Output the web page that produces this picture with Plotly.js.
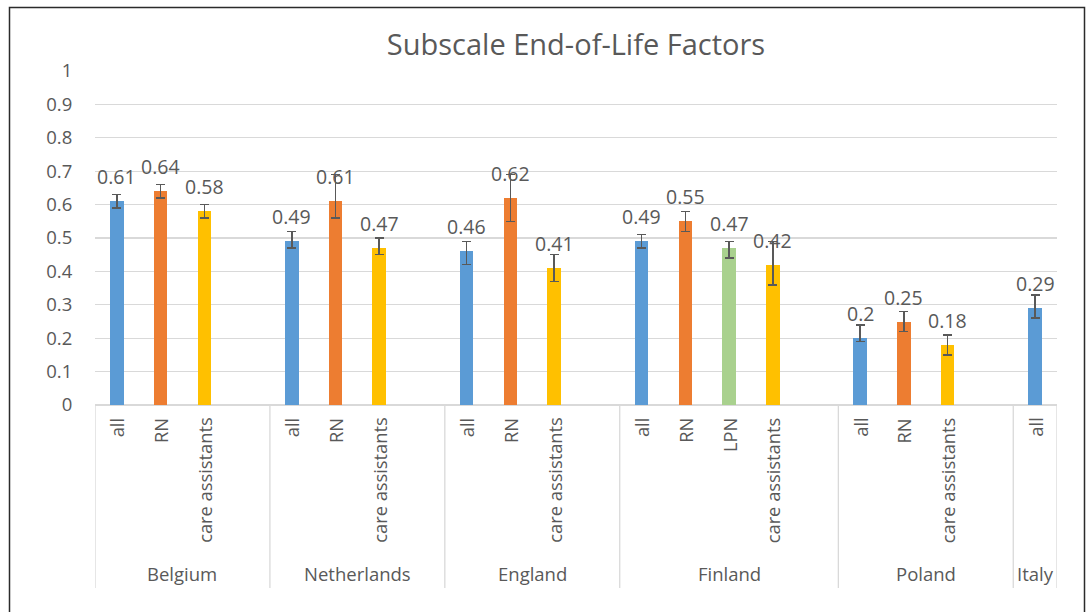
<!DOCTYPE html>
<html>
<head>
<meta charset="utf-8">
<script src="https://cdn.plot.ly/plotly-3.0.1.min.js"></script>
<style>
  html, body { margin: 0; padding: 0; background: #ffffff; }
  #chart { width: 1089px; height: 612px; }
</style>
</head>
<body>
<div id="chart"></div>
<script>
// One entry per category slot (empty slots separate the countries, as in the source)
const countryOf = [
  "Belgium", "Belgium", "Belgium", "Belgium",
  "Netherlands", "Netherlands", "Netherlands", "Netherlands",
  "England", "England", "England", "England",
  "Finland", "Finland", "Finland", "Finland", "Finland",
  "Poland", "Poland", "Poland", "Poland",
  "Italy"
];
const roleLabels = [
  "all", "RN", "care assistants", "",
  "all", "RN", "care assistants", "",
  "all", "RN", "care assistants", "",
  "all", "RN", "LPN", "care assistants", "",
  "all", "RN", "care assistants", "",
  "all"
];
const values = [
  0.61, 0.64, 0.58, null,
  0.49, 0.61, 0.47, null,
  0.46, 0.62, 0.41, null,
  0.49, 0.55, 0.47, 0.42, null,
  0.2, 0.25, 0.18, null,
  0.29
];
const errPlus = [
  0.02, 0.02, 0.02, null,
  0.03, 0.08, 0.03, null,
  0.03, 0.07, 0.04, null,
  0.02, 0.03, 0.02, 0.07, null,
  0.04, 0.03, 0.03, null,
  0.04
];
const errMinus = [
  0.02, 0.02, 0.02, null,
  0.02, 0.05, 0.02, null,
  0.04, 0.07, 0.04, null,
  0.02, 0.03, 0.03, 0.06, null,
  0.01, 0.03, 0.03, null,
  0.03
];
const yTickValues = [0, 0.1, 0.2, 0.3, 0.4, 0.5, 0.6, 0.7, 0.8, 0.9, 1];
const roleColors = {
  "all": "#5B9BD5",
  "RN": "#ED7D31",
  "LPN": "#A9D18E",
  "care assistants": "#FFC000",
  "": "rgba(0,0,0,0)"
};

const FONT = "Open Sans, DejaVu Sans, sans-serif";
const TXT = "#595959";
const GRID = "#D9D9D9";

// layout geometry (pixels)
const W = 1089, H = 612;
const M = { l: 95, r: 32, t: 71, b: 207 };
const plotW = W - M.l - M.r, plotH = H - M.t - M.b;
const pxToPaperY = py => (H - M.b - py) / plotH;
const pxToPaperX = px => (px - M.l) / plotW;

const idx = values.map((_, i) => i);

const barTrace = {
  type: "bar",
  x: idx,
  y: values,
  width: 0.31,
  marker: {
    color: roleLabels.map(r => roleColors[r]),
    line: { width: 0 }
  },
  error_y: {
    type: "data",
    symmetric: false,
    array: errPlus,
    arrayminus: errMinus,
    color: "#595959",
    thickness: 1.5,
    width: 4.5
  },
  hoverinfo: "skip",
  showlegend: false
};

const annotations = [];

// data labels
values.forEach((v, i) => {
  if (v === null) return;
  annotations.push({
    x: i, y: v, xref: "x", yref: "y",
    text: String(v),
    showarrow: false,
    xanchor: "center", yanchor: "bottom",
    yshift: 9,
    font: { family: FONT, size: 19.5, color: TXT }
  });
});

// inner category labels (rotated)
roleLabels.forEach((r, i) => {
  if (!r) return;
  annotations.push({
    x: i, y: 0, xref: "x", yref: "paper",
    text: r,
    textangle: -90,
    showarrow: false,
    xanchor: "center", yanchor: "top",
    yshift: -11,
    font: { family: FONT, size: 18.3, color: TXT }
  });
});

// group labels and dividers
const groups = [];
countryOf.forEach((c, i) => {
  const last = groups[groups.length - 1];
  if (last && last.name === c) last.end = i;
  else groups.push({ name: c, start: i, end: i });
});

const shapes = [];
const divBottom = pxToPaperY(588);
groups.forEach((g, k) => {
  annotations.push({
    x: (g.start + g.end) / 2, y: pxToPaperY(573), xref: "x", yref: "paper",
    text: g.name,
    showarrow: false,
    xanchor: "center", yanchor: "middle",
    font: { family: FONT, size: 18.5, color: TXT }
  });
  shapes.push({
    type: "line", xref: "x", yref: "paper",
    x0: g.start - 0.5, x1: g.start - 0.5, y0: 0, y1: divBottom,
    line: { color: GRID, width: 1.3 }
  });
  if (k === groups.length - 1) {
    shapes.push({
      type: "line", xref: "x", yref: "paper",
      x0: g.end + 0.5, x1: g.end + 0.5, y0: 0, y1: divBottom,
      line: { color: GRID, width: 1.3 }
    });
  }
});

// chart area border
shapes.push({
  type: "rect", xref: "paper", yref: "paper",
  x0: pxToPaperX(9.5), x1: pxToPaperX(1084.5),
  y0: pxToPaperY(640), y1: pxToPaperY(7.5),
  line: { color: "#2b2b2b", width: 1.5 },
  fillcolor: "rgba(0,0,0,0)",
  layer: "below"
});

const layout = {
  width: W, height: H,
  margin: M,
  paper_bgcolor: "#ffffff",
  plot_bgcolor: "#ffffff",
  font: { family: FONT, color: TXT, size: 18 },
  title: {
    text: "Subscale End-of-Life Factors",
    font: { family: FONT, size: 29, color: TXT },
    x: 0.5, xref: "paper", xanchor: "center",
    y: 1 - 45 / H, yref: "container", yanchor: "middle"
  },
  xaxis: {
    type: "linear",
    range: [-0.5, values.length - 0.5],
    showticklabels: false,
    showgrid: false,
    zeroline: false,
    showline: false,
    ticks: "",
    fixedrange: true
  },
  yaxis: {
    range: [0, 1],
    tickvals: yTickValues,
    ticktext: yTickValues.map(v => String(v)),
    showgrid: true,
    gridcolor: GRID,
    gridwidth: 1.3,
    zeroline: true,
    zerolinecolor: GRID,
    zerolinewidth: 1.3,
    showline: false,
    ticks: "outside",
    ticklen: 18,
    tickcolor: "rgba(0,0,0,0)",
    tickfont: { family: FONT, size: 18.5, color: TXT },
    fixedrange: true
  },
  annotations: annotations,
  shapes: shapes,
  bargap: 0
};

Plotly.newPlot("chart", [barTrace], layout, { displayModeBar: false, staticPlot: true });
</script>
</body>
</html>
